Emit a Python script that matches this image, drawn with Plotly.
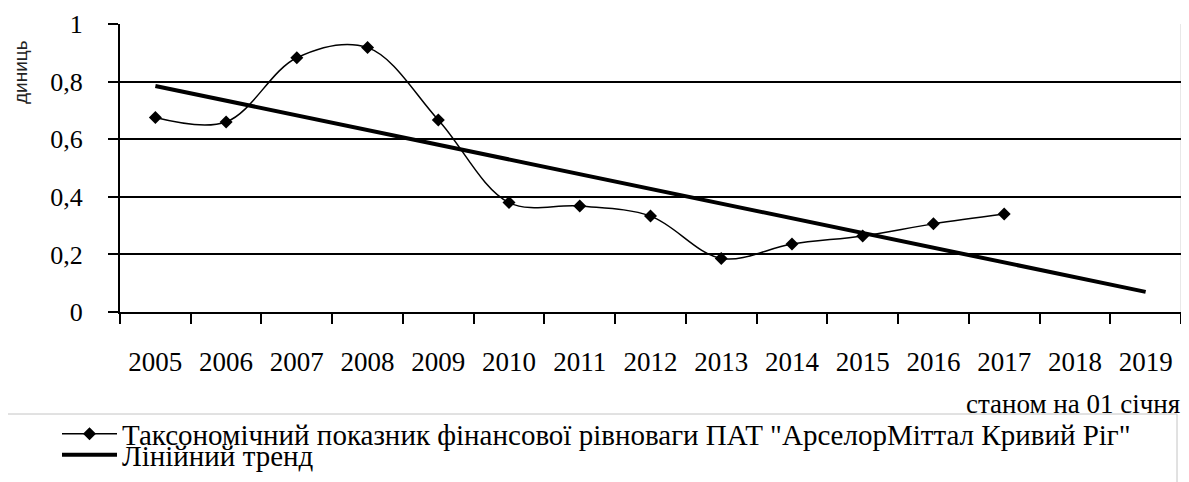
import plotly.graph_objects as go

years = ["2005", "2006", "2007", "2008", "2009", "2010", "2011", "2012",
         "2013", "2014", "2015", "2016", "2017", "2018", "2019"]
data_years = years[:13]
taxonomic_values = [0.675, 0.660, 0.883, 0.918, 0.667, 0.380, 0.368, 0.333,
                    0.186, 0.236, 0.264, 0.306, 0.340]
trend_years = ["2005", "2019"]
trend_values = [0.785, 0.070]
y_ticks = [0, 0.2, 0.4, 0.6, 0.8, 1.0]
y_ticktext = ["0", "0,2", "0,4", "0,6", "0,8", "1"]

name_main = 'Таксономічний показник фінансової рівноваги ПАТ "АрселорМіттал Кривий Ріг"'
name_trend = "Лінійний тренд"
x_title = "станом на 01 січня"
y_title = "диниць"

# page body has an 8px margin; work in page pixels and convert
OFF = 8
W, H = 1189 - OFF, 482 - OFF
PLOT_L, PLOT_R, PLOT_T, PLOT_B = 120, 1181, 24, 312   # page pixels
L, T = PLOT_L - OFF, PLOT_T - OFF
R = W - (PLOT_R - OFF)
B = H - (PLOT_B - OFF)
PW, PH = PLOT_R - PLOT_L, PLOT_B - PLOT_T

def px_x(p):
    return (p - PLOT_L) / PW

def px_y(p):
    return (PLOT_B - p) / PH

SERIF = "Liberation Serif"

fig = go.Figure()
fig.add_trace(go.Scatter(
    x=data_years, y=taxonomic_values, name=name_main, mode="lines+markers",
    line=dict(color="black", width=1.5, shape="spline", smoothing=1.0),
    marker=dict(symbol="diamond", size=10, color="black"),
    legend="legend",
))
fig.add_trace(go.Scatter(
    x=trend_years, y=trend_values, name=name_trend, mode="lines",
    line=dict(color="black", width=4),
    legend="legend2",
))

# legend frame
fig.add_shape(type="rect", xref="paper", yref="paper",
              x0=px_x(5), x1=px_x(1177), y0=px_y(414), y1=px_y(500),
              line=dict(color="#c4c4c4", width=1), fillcolor="white", layer="below")
# faint right border of plot area
fig.add_shape(type="line", xref="paper", yref="paper",
              x0=1, x1=1, y0=0, y1=1, line=dict(color="#d0d0d0", width=1), layer="below")

fig.add_annotation(text=x_title, xref="paper", yref="paper",
                   x=px_x(1182), y=px_y(404), xanchor="right", yanchor="middle",
                   showarrow=False, font=dict(family=SERIF, size=27, color="black"))
fig.add_annotation(text=y_title, xref="paper", yref="paper",
                   x=px_x(21), y=px_y(72), xanchor="center", yanchor="middle",
                   textangle=-90, showarrow=False,
                   font=dict(family="Liberation Sans", size=19, color="#222"))

leg_common = dict(xanchor="left", yanchor="middle", bgcolor="rgba(0,0,0,0)",
                  borderwidth=0, font=dict(family=SERIF, size=29, color="black"),
                  itemwidth=55, orientation="v")

fig.update_layout(
    width=W, height=H,
    margin=dict(l=L, r=R, t=T, b=B, autoexpand=False),
    paper_bgcolor="white", plot_bgcolor="white",
    font=dict(family=SERIF, size=26, color="black"),
    showlegend=True,
    legend=dict(x=px_x(57), y=px_y(434), **leg_common),
    legend2=dict(x=px_x(57), y=px_y(455), **leg_common),
    xaxis=dict(
        type="category", categoryorder="array", categoryarray=years,
        range=[-0.5, len(years) - 0.5], tickson="boundaries",
        showgrid=False, zeroline=False, showline=True, linecolor="black", linewidth=2,
        ticks="outside", ticklen=10, tickwidth=2, tickcolor="black",
        tickfont=dict(family=SERIF, size=27, color="black"),
        ticklabelstandoff=25,
    ),
    yaxis=dict(
        range=[0, 1], tickvals=y_ticks, ticktext=y_ticktext,
        showgrid=True, gridcolor="black", gridwidth=2,
        zeroline=False, showline=True, linecolor="black", linewidth=2,
        ticks="outside", ticklen=10, tickwidth=2, tickcolor="black",
        tickfont=dict(family=SERIF, size=26, color="black"),
        ticklabelstandoff=20,
    ),
)

fig.write_html("out.html")
